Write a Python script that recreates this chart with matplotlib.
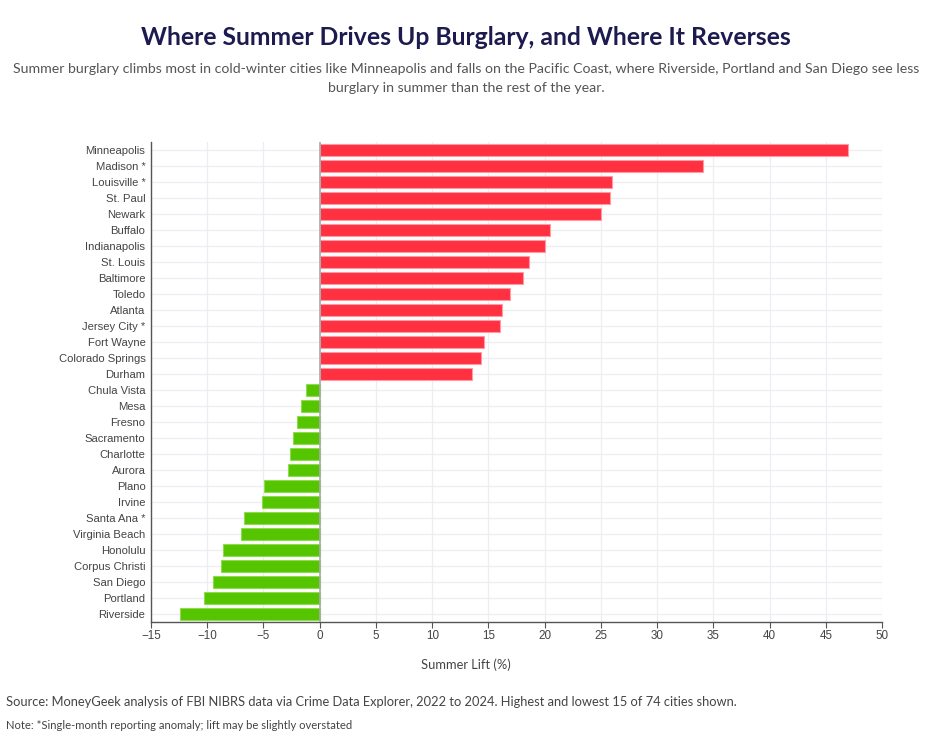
import matplotlib.pyplot as plt
import numpy as np

cities = ["Minneapolis", "Madison *", "Louisville *", "St. Paul", "Newark",
          "Buffalo", "Indianapolis", "St. Louis", "Baltimore", "Toledo",
          "Atlanta", "Jersey City *", "Fort Wayne", "Colorado Springs", "Durham",
          "Chula Vista", "Mesa", "Fresno", "Sacramento", "Charlotte",
          "Aurora", "Plano", "Irvine", "Santa Ana *", "Virginia Beach",
          "Honolulu", "Corpus Christi", "San Diego", "Portland", "Riverside"]
lift = [47.0, 34.1, 26.0, 25.8, 25.0,
        20.5, 20.0, 18.6, 18.1, 16.9,
        16.2, 16.0, 14.6, 14.3, 13.5,
        -1.25, -1.7, -2.05, -2.4, -2.65,
        -2.85, -4.95, -5.15, -6.7, -7.0,
        -8.6, -8.8, -9.5, -10.25, -12.4]
xticks = np.arange(-15, 51, 5)

red, red_edge = '#ff3040', '#ff9aa6'
green, green_edge = '#55c500', '#8fdc4c'

fig = plt.figure(figsize=(9.32, 7.36), dpi=100)
ax = fig.add_axes([0.162, 0.155, 0.7845, 0.652])

y = np.arange(len(cities))
colors = [red if v > 0 else green for v in lift]
edges = [red_edge if v > 0 else green_edge for v in lift]
ax.barh(y, lift, height=0.8, color=colors, edgecolor=edges, linewidth=0.8, zorder=2)

ax.set_ylim(len(cities) - 0.5, -0.5)
ax.set_xlim(-15, 50)
ax.set_yticks(y)
ax.set_yticklabels(cities, family='Liberation Sans', fontsize=8.1, color='#444444')
ax.set_xticks(xticks)
ax.set_xticklabels([str(t).replace('-', '\u2212') for t in xticks],
                   family='Liberation Sans', fontsize=8.4, color='#444444')
ax.tick_params(axis='y', length=0, pad=4)
ax.tick_params(axis='x', length=4, color='#555555', width=0.8, pad=2)

ax.grid(True, color='#eceef3', linewidth=0.9, zorder=0)
ax.set_axisbelow(True)
ax.axvline(0, color='#aaaaaa', linewidth=1.2, zorder=3)
for s in ['top', 'right']:
    ax.spines[s].set_visible(False)
for s in ['left', 'bottom']:
    ax.spines[s].set_color('#555555')
    ax.spines[s].set_linewidth(1.0)

fig.text(0.5, 0.0965, "Summer Lift (%)", ha='center', va='center',
         family='Lato', fontsize=9.3, color='#444444')

fig.text(0.5, 0.949, "Where Summer Drives Up Burglary, and Where It Reverses",
         ha='center', va='center', family='Lato', fontweight='bold',
         fontsize=17.8, color='#1c1a4f')
fig.text(0.5, 0.906, "Summer burglary climbs most in cold-winter cities like Minneapolis and falls on the Pacific Coast, where Riverside, Portland and San Diego see less",
         ha='center', va='center', family='Lato', fontsize=10.2, color='#555555')
fig.text(0.5, 0.880, "burglary in summer than the rest of the year.",
         ha='center', va='center', family='Lato', fontsize=10.2, color='#555555')
fig.text(0.006, 0.046, "Source: MoneyGeek analysis of FBI NIBRS data via Crime Data Explorer, 2022 to 2024. Highest and lowest 15 of 74 cities shown.",
         ha='left', va='center', family='Lato', fontsize=9.28, color='#444444')
fig.text(0.006, 0.014, "Note: *Single-month reporting anomaly; lift may be slightly overstated",
         ha='left', va='center', family='Lato', fontsize=8.1, color='#444444')

fig.savefig('out.png', dpi=100, facecolor='white')
